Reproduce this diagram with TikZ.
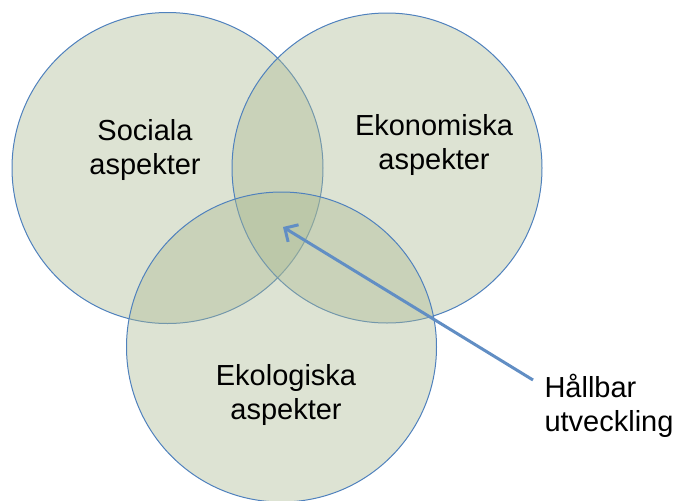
\documentclass[tikz,border=0pt]{standalone}
\usepackage{fontspec}
\setmainfont{Liberation Sans}
\usetikzlibrary{arrows.meta}
\definecolor{venn}{RGB}{170,185,145}
\definecolor{edge}{RGB}{79,129,189}
\tikzset{
  set/.style={circle, draw=edge, line width=1pt, fill=venn, fill opacity=0.4, inner sep=0pt},
  lbl/.style={font=\fontsize{29}{34}\selectfont, align=center, text=black},
  pointer/.style={draw=edge!90!white, line width=3pt, -{Straight Barb[length=10pt,width=20pt,line width=3pt]}}
}
\begin{document}
\begin{tikzpicture}[x=1pt,y=-1pt]
\useasboundingbox (0,0) rectangle (678,501);
\node[set, minimum size=311pt] (soc) at (167.5,168) {};
\node[set, minimum size=310pt] (eko) at (387,168) {};
\node[set, minimum size=310pt] (ekol) at (281.5,347) {};
\node[lbl] (tsoc) at (145,150) {Sociala\\aspekter};
\node[lbl] (teko) at (434,145) {Ekonomiska\\aspekter};
\node[lbl] (tekol) at (286,395) {Ekologiska\\aspekter};
\node[lbl, align=left, anchor=north west] (hall) at (541,371) {Hållbar\\utveckling};
\coordinate (start) at (533,380);
\coordinate (tip) at (283,227);
\draw[pointer] (start) -- (tip);
\end{tikzpicture}
\end{document}
